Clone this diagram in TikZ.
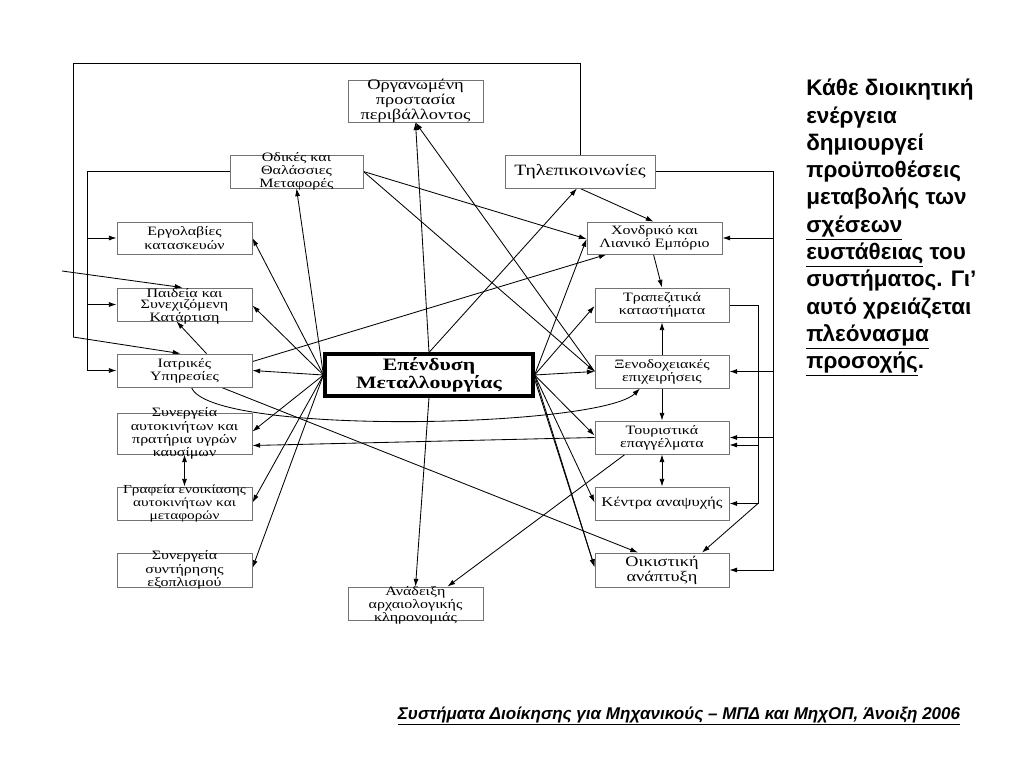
\documentclass[tikz,border=0pt]{standalone}
\usepackage{fontspec}
\setmainfont{Liberation Serif}
\newfontfamily\boxfont[FakeStretch=1.25]{Liberation Serif}
\newfontfamily\sansfont{Liberation Sans}
\usetikzlibrary{arrows.meta,calc}
\pgfdeclarelayer{paper}
\pgfdeclarelayer{wires}
\pgfsetlayers{paper,wires,main}
\newcommand\mybox[6]{%
  \node[box,minimum width=#2,minimum height=#3] (#1) at (#4) {};
  \node[lbl,#5] (#1-t) at (#1.center) {#6};}
\begin{document}
\begin{tikzpicture}[x=0.025cm,y=-0.025cm,
  fs/.style 2 args={font=\boxfont\fontsize{#1}{#2}\selectfont},
  box/.style={draw=black!55,line width=0.6pt,inner sep=0pt},
  lbl/.style={inner sep=0pt,align=center,fs={9.1}{7.6}},
  mainbox/.style={draw=black,line width=2.2pt,fill=white,inner sep=0pt,align=center,
    font=\boxfont\bfseries\fontsize{12.4}{12.8}\selectfont,minimum width=5.2cm,minimum height=1.05cm},
  conn/.style={line width=0.6pt,-{Latex[length=5.5pt,width=3.6pt]}},
  dconn/.style={line width=0.6pt,{Latex[length=5.5pt,width=3.6pt]}-{Latex[length=5.5pt,width=3.6pt]}},
  wire/.style={line width=0.6pt}]
\begin{pgfonlayer}{paper}
\useasboundingbox (0,0) rectangle (1024,768);
\fill[white] (0,0) rectangle (1024,768);
\end{pgfonlayer}

% nodes
\mybox{org}{3.375cm}{1.05cm}{415.5,101}{fs={10.5}{9.2}}{Οργανωμένη\\προστασία\\περιβάλλοντος}
\mybox{odikes}{3.325cm}{0.825cm}{296.5,171.5}{}{Οδικές και\\Θαλάσσιες\\Μεταφορές}
\mybox{tele}{3.75cm}{0.825cm}{580,171.5}{fs={11.2}{10}}{Τηλεπικοινωνίες}
\mybox{ergo}{3.375cm}{0.8cm}{184.5,238}{}{Εργολαβίες\\κατασκευών}
\mybox{chond}{3.375cm}{0.8cm}{654.5,238}{}{Χονδρικό και\\Λιανικό Εμπόριο}
\mybox{paid}{3.375cm}{0.825cm}{184.5,304.5}{yshift=-0.04cm}{Παιδεία και\\Συνεχιζόμενη\\Κατάρτιση}
\mybox{trap}{3.35cm}{0.85cm}{662,305}{}{Τραπεζιτικά\\καταστήματα}
\mybox{iatr}{3.375cm}{0.825cm}{184.5,370.5}{}{Ιατρικές\\Υπηρεσίες}
\node[mainbox] (cent) at (429,375) {Επένδυση\\Μεταλλουργίας};
\mybox{xeno}{3.35cm}{0.825cm}{662,371.5}{}{Ξενοδοχειακές\\επιχειρήσεις}
\mybox{synaut}{3.375cm}{1.025cm}{184.5,433.5}{fs={9.1}{7.6}}{Συνεργεία\\αυτοκινήτων και\\πρατήρια υγρών\\καυσίμων}
\mybox{touri}{3.35cm}{0.825cm}{662,437.5}{}{Τουριστικά\\επαγγέλματα}
\mybox{graf}{3.375cm}{0.825cm}{184.5,503.5}{fs={8.7}{7.6}}{Γραφεία ενοικίασης\\αυτοκινήτων και\\μεταφορών}
\mybox{kentra}{3.35cm}{0.825cm}{662,503.5}{fs={9.5}{8}}{Κέντρα αναψυχής}
\mybox{synsyn}{3.375cm}{0.85cm}{184.5,570}{}{Συνεργεία\\συντήρησης\\εξοπλισμού}
\mybox{oik}{3.35cm}{0.85cm}{662,570}{fs={10.4}{9.4}}{Οικιστική\\ανάπτυξη}
\mybox{anad}{3.375cm}{0.825cm}{415.5,603.5}{yshift=-0.05cm}{Ανάδειξη\\αρχαιολογικής\\κληρονομιάς}

\begin{pgfonlayer}{wires}
% helper coordinates for frame lines
\coordinate (fx) at (73,63);
\coordinate (fy) at (73,337);
\coordinate (fb) at (62,271);
\coordinate (ix) at (87,0);
\coordinate (rx) at (773,0);
\coordinate (tx) at (758,0);
\coordinate (ty) at (0,445);

% outer frame from Τηλεπικοινωνίες
\draw[wire] (tele.north) |- (fx) -- (fy);
\draw[conn] (fy) -- ($(iatr.north)+(-4,0)$);
\draw[conn] (fb) -- ($(paid.north)+(-2,0)$);

% inner line from Οδικές
\draw[conn] (odikes.west) -| (ix |- iatr.west) -- (iatr.west);
\draw[conn] (ix |- ergo.west) -- (ergo.west);
\draw[conn] (ix |- paid.west) -- (paid.west);

% right line from Τηλεπικοινωνίες
\draw[conn] (tele.east) -| (rx |- oik.east) -- (oik.east);
\draw[conn] (rx |- chond.east) -- (chond.east);
\draw[conn] (rx |- xeno.east) -- (xeno.east);
\draw[conn] (rx |- touri.east) -- (touri.east);

% right line from Τραπεζιτικά
\draw[conn] (trap.east) -| (tx |- kentra.east) -- (kentra.east);
\draw[conn] (tx |- ty) -- (touri.east |- ty);
\draw[conn] (tx |- kentra.east) -- ($(oik.north)+(40,0)$);

% fan from centre
\draw[conn] (cent.west) -- (odikes.south);
\draw[conn] (cent.west) -- (ergo.east);
\draw[conn] (cent.west) -- ($(paid.east)+(0,1)$);
\draw[conn] (cent.west) -- (iatr.east);
\draw[conn] (cent.west) -- ($(synaut.east)+(0,-2)$);
\draw[conn] (cent.west) -- ($(graf.east)+(0,-1)$);
\draw[conn] (cent.west) -- ($(synsyn.east)+(0,-2)$);
\draw[conn] (cent.north) -- (org.south);
\draw[conn] (cent.north) -- ($(tele.south)+(-3,0)$);
\draw[conn] (cent.south) -- (anad.north);
\draw[conn] (cent.east) -- ($(chond.west)+(0,1)$);
\draw[conn] (cent.east) -- ($(trap.west)+(0,1)$);
\draw[conn] (cent.east) -- (xeno.west);
\draw[conn] (cent.east) -- ($(touri.west)+(0,-2)$);
\draw[conn] (cent.east) -- ($(kentra.west)+(0,-1)$);
\draw[conn] (cent.east) -- ($(oik.west)+(0,-3)$);
\draw[conn] ($(cent.east)+(0,4)$) -- ($(oik.west)+(0,-3)$);

% other connectors
\draw[conn] (odikes.east) -- ($(chond.west)+(0,1)$);
\draw[conn] (odikes.east) -- (xeno.west);
\draw[conn] (xeno.west) -- (org.south);
\draw[conn] ($(iatr.north east)+(0,8)$) -- ($(chond.south west)+(20,0)$);
\draw[conn] ($(iatr.north)+(22,0)$) -- ($(paid.south)+(-8,0)$);
\draw[conn] ($(iatr.south)+(7,0)$) .. controls (210,436) and (600,428) .. ($(xeno.south)+(-22,0)$);
\draw[conn] ($(iatr.south)+(37,0)$) -- ($(oik.north)+(-24,0)$);
\draw[conn] (touri.west) -- ($(synaut.east)+(0,12)$);
\draw[conn] ($(touri.south)+(-37,0)$) -- ($(anad.north)+(32,0)$);
\draw[conn] (tele.south) -- ($(chond.north)+(-1,0)$);
\draw[conn] ($(chond.south)+(-1,0)$) -- (trap.north);
\draw[conn] (xeno.north) -- (trap.south);
\draw[conn] (xeno.south) -- (touri.north);
\draw[dconn] (touri.south) -- (kentra.north);
\draw[dconn] (synaut.south) -- (graf.north);
\end{pgfonlayer}

% right text
\node[anchor=north west,inner sep=0pt,align=left,font=\sansfont\bfseries\fontsize{16}{19.4}\selectfont] (txt) at (806,79)
{Κάθε διοικητική\\ενέργεια\\δημιουργεί\\προϋποθέσεις\\μεταβολής των\\\underline{σχέσεων}\\\underline{ευστάθειας} του\\συστήματος. Γι’\\αυτό χρειάζεται\\\underline{πλεόνασμα}\\\underline{προσοχής}.};

% footer
\node[inner sep=0pt,font=\sansfont\bfseries\itshape\fontsize{12.1}{14}\selectfont] (foot) at (679,716)
{\underline{Συστήματα Διοίκησης για Μηχανικούς – ΜΠΔ και ΜηχΟΠ, Άνοιξη 2006}};
\end{tikzpicture}
\end{document}
